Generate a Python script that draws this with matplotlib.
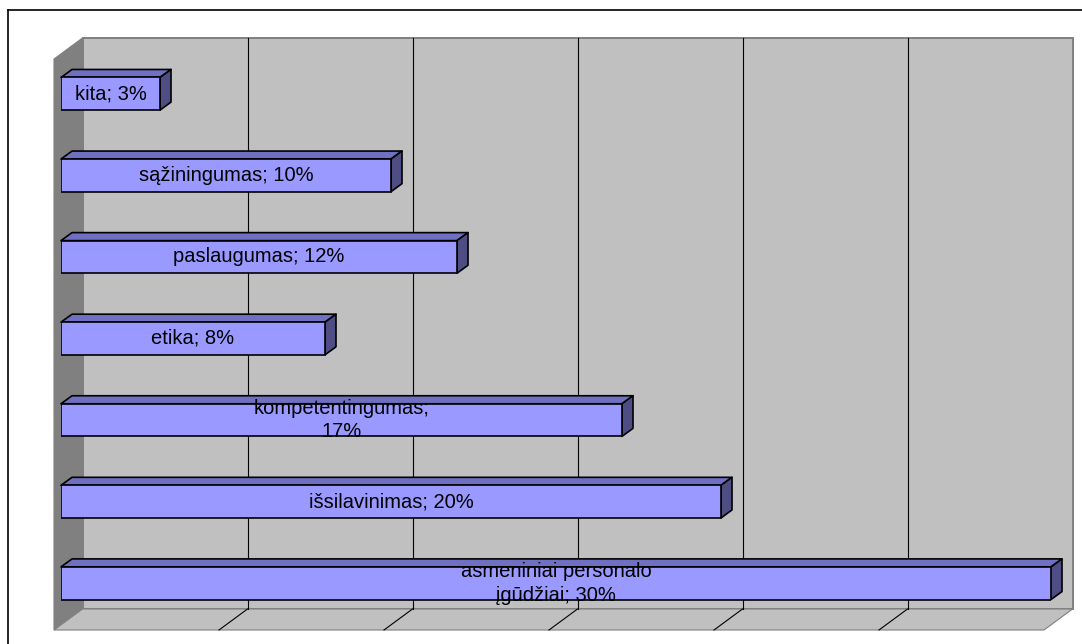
import numpy as np
import matplotlib
matplotlib.use("Agg")
import matplotlib.pyplot as plt
from matplotlib.patches import Polygon
from matplotlib.transforms import offset_copy, blended_transform_factory, IdentityTransform

# Data (bottom to top)
categories = ["asmeniniai personalo\nįgūdžiai", "išsilavinimas", "kompetentingumas",
              "etika", "paslaugumas", "sąžiningumas", "kita"]
label_sep = ["; ", "; ", ";\n", "; ", "; ", "; ", "; "]
values = [30, 20, 17, 8, 12, 10, 3]
x_ticks = [0, 5, 10, 15, 20, 25, 30]

W, H = 1082, 644
DPI = 100

FRONT_COLOR = "#9999FF"
TOP_COLOR = "#7070C2"
SIDE_COLOR = "#4E4E84"
WALL_COLOR = "#C0C0C0"
SIDE_WALL_COLOR = "#808080"
EDGE_GRAY = "#808080"

plt.rcParams["font.family"] = ["Liberation Sans", "DejaVu Sans"]

fig = plt.figure(figsize=(W / DPI, H / DPI), dpi=DPI)


def px_rect(l, t, r, b):
    return [l / W, 1 - b / H, (r - l) / W, (b - t) / H]


# Plane of the bars' front faces
ax = fig.add_axes(px_rect(61, 53, 1051, 624))
ax.set_xlim(x_ticks[0], x_ticks[-1])
ax.set_ylim(-0.5, len(categories) - 0.5)
ax.axis("off")

# Depth offsets (display pixels)
BACK_DX, BACK_DY = 21.5, 15      # back wall relative to bar front plane
FLOOR_DX, FLOOR_DY = -7, -6      # front edge of floor / side wall
BAR_DX, BAR_DY = 11, 8           # bar depth

xa = blended_transform_factory(ax.transData, ax.transAxes)
back_t = offset_copy(xa, fig=fig, x=BACK_DX, y=BACK_DY, units="dots")
front_t = offset_copy(xa, fig=fig, x=FLOOR_DX, y=FLOOR_DY, units="dots")

x0, x1 = x_ticks[0], x_ticks[-1]
bl, tl_, br, tr = back_t.transform([(x0, 0), (x0, 1), (x1, 0), (x1, 1)])
fl_b, fl_t, fr_b = front_t.transform([(x0, 0), (x0, 1), (x1, 0)])

ident = IdentityTransform()


def add_poly(pts, **kw):
    p = Polygon(np.asarray(pts), closed=True, transform=ident, clip_on=False, **kw)
    ax.add_patch(p)
    return p


# Walls and floor
add_poly([bl, tl_, tr, br], facecolor=WALL_COLOR, edgecolor=EDGE_GRAY, lw=1.4, zorder=0)
add_poly([bl, tl_, fl_t, fl_b], facecolor=SIDE_WALL_COLOR, edgecolor=EDGE_GRAY, lw=0.8, zorder=0.5)
add_poly([bl, br, fr_b, fl_b], facecolor=WALL_COLOR, edgecolor=EDGE_GRAY, lw=0.8, zorder=0.5)

# Gridlines on back wall and floor
for t in x_ticks[1:-1]:
    (gx_b, gy_b), (gx_t, gy_t) = back_t.transform([(t, 0), (t, 1)])
    (fx, fy), = front_t.transform([(t, 0)])
    ax.plot([gx_b, gx_t], [gy_b, gy_t], color="black", lw=0.8, transform=ident,
            clip_on=False, zorder=1)
    ax.plot([gx_b, fx], [gy_b, fy], color="black", lw=0.8, transform=ident,
            clip_on=False, zorder=1)

# Bars
bar_h = 0.4
ypos = np.arange(len(categories))
ax.barh(ypos, values, height=bar_h, left=0, color=FRONT_COLOR, edgecolor="black",
        lw=1.2, zorder=4)

for y, v in zip(ypos, values):
    (lx, ty), (rx, ty2), (rx2, by) = ax.transData.transform(
        [(0, y + bar_h / 2), (v, y + bar_h / 2), (v, y - bar_h / 2)])
    add_poly([(lx, ty), (rx, ty), (rx + BAR_DX, ty + BAR_DY), (lx + BAR_DX, ty + BAR_DY)],
             facecolor=TOP_COLOR, edgecolor="black", lw=1.2, zorder=3, joinstyle="round")
    add_poly([(rx, ty), (rx, by), (rx + BAR_DX, by + BAR_DY), (rx + BAR_DX, ty + BAR_DY)],
             facecolor=SIDE_COLOR, edgecolor="black", lw=1.2, zorder=3, joinstyle="round")

# Data labels
for y, v, c, s in zip(ypos, values, categories, label_sep):
    ax.text(v / 2, y, f"{c}{s}{v}%", ha="center", va="center", fontsize=14.5,
            color="black", linespacing=1.32, zorder=6)

# Chart area border (left and top edges)
fig.add_artist(plt.Line2D([8 / W, 8 / W], [0, 1 - 10 / H], color="black", lw=1.2,
                          transform=fig.transFigure))
fig.add_artist(plt.Line2D([8 / W, 1], [1 - 10 / H, 1 - 10 / H], color="black", lw=1.2,
                          transform=fig.transFigure))

fig.savefig("out.png", dpi=DPI, facecolor="white")
